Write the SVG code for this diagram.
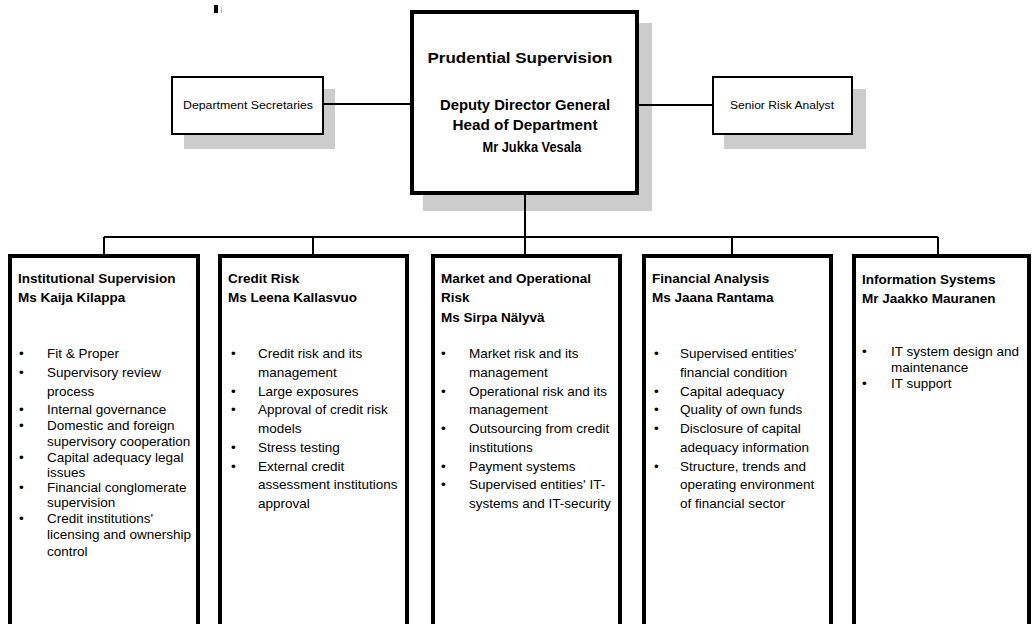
<svg xmlns="http://www.w3.org/2000/svg" width="1033" height="624" viewBox="0 0 1033 624">
<style>
.shadow{fill:#cccccc}
.box{fill:#ffffff;stroke:#000000}
.thin{stroke-width:2}
.thick{stroke-width:4}
.line{stroke:#000000;stroke-width:2;fill:none}
.t{font-family:"Liberation Sans",Arial,sans-serif;fill:#000000}
.hb{font-weight:bold;font-size:14px}
.sm{font-size:10px}
.ti{font-weight:bold;font-size:13.5px}
.li{font-size:13.5px}
</style>
<rect x="214" y="5" width="4" height="8" fill="#000"/>
<rect x="221" y="7" width="1" height="6" fill="#bbb"/>
<g id="dept-secretaries">
<rect class="shadow" x="184" y="89" width="151" height="60"/>
<rect class="box thin" x="172" y="77" width="151" height="57"/>
<text class="t sm" x="248" y="109" text-anchor="middle" textLength="130" lengthAdjust="spacingAndGlyphs">Department Secretaries</text>
</g>
<g id="head">
<rect class="shadow" x="423" y="23" width="229" height="188"/>
<rect class="box thick" x="412" y="12" width="225" height="181"/>
<text class="t hb" x="520" y="63" text-anchor="middle" textLength="185" lengthAdjust="spacingAndGlyphs">Prudential Supervision</text>
<text class="t hb" x="525" y="110" text-anchor="middle" textLength="170" lengthAdjust="spacingAndGlyphs">Deputy Director General</text>
<text class="t hb" x="525" y="130" text-anchor="middle" textLength="145" lengthAdjust="spacingAndGlyphs">Head of Department</text>
<text class="t hb" x="532" y="152" text-anchor="middle" textLength="99" lengthAdjust="spacingAndGlyphs">Mr Jukka Vesala</text>
</g>
<g id="senior-risk-analyst">
<rect class="shadow" x="724" y="89" width="142" height="60"/>
<rect class="box thin" x="713" y="77" width="139" height="57"/>
<text class="t sm" x="782" y="109" text-anchor="middle" textLength="104" lengthAdjust="spacingAndGlyphs">Senior Risk Analyst</text>
</g>
<g id="institutional-supervision">
<rect class="box thick" x="10" y="256" width="188" height="380"/>
<text class="t ti" x="18" y="283">Institutional Supervision</text>
<text class="t ti" x="18" y="302">Ms Kaija Kilappa</text>
<g class="t li">
<text x="19" y="358">•</text><text x="47" y="358">Fit &amp; Proper</text>
<text x="19" y="377">•</text><text x="47" y="377">Supervisory review</text>
<text x="47" y="396">process</text>
<text x="19" y="414">•</text><text x="47" y="414">Internal governance</text>
<text x="19" y="430">•</text><text x="47" y="430">Domestic and foreign</text>
<text x="47" y="446">supervisory cooperation</text>
<text x="19" y="462">•</text><text x="47" y="462">Capital adequacy legal</text>
<text x="47" y="477">issues</text>
<text x="19" y="492">•</text><text x="47" y="492">Financial conglomerate</text>
<text x="47" y="507">supervision</text>
<text x="19" y="523">•</text><text x="47" y="523">Credit institutions'</text>
<text x="47" y="539">licensing and ownership</text>
<text x="47" y="556">control</text>
</g>
</g>
<g id="credit-risk">
<rect class="box thick" x="220" y="256" width="187" height="380"/>
<text class="t ti" x="228" y="283">Credit Risk</text>
<text class="t ti" x="228" y="302">Ms Leena Kallasvuo</text>
<g class="t li">
<text x="231" y="358">•</text><text x="258" y="358">Credit risk and its</text>
<text x="258" y="377">management</text>
<text x="231" y="396">•</text><text x="258" y="396">Large exposures</text>
<text x="231" y="414">•</text><text x="258" y="414">Approval of credit risk</text>
<text x="258" y="433">models</text>
<text x="231" y="452">•</text><text x="258" y="452">Stress testing</text>
<text x="231" y="471">•</text><text x="258" y="471">External credit</text>
<text x="258" y="489">assessment institutions</text>
<text x="258" y="508">approval</text>
</g>
</g>
<g id="market-operational-risk">
<rect class="box thick" x="433" y="256" width="187" height="380"/>
<text class="t ti" x="441" y="283">Market and Operational</text>
<text class="t ti" x="441" y="302">Risk</text>
<text class="t ti" x="441" y="322">Ms Sirpa Nälyvä</text>
<g class="t li">
<text x="441" y="358">•</text><text x="469" y="358">Market risk and its</text>
<text x="469" y="377">management</text>
<text x="441" y="396">•</text><text x="469" y="396">Operational risk and its</text>
<text x="469" y="414">management</text>
<text x="441" y="433">•</text><text x="469" y="433">Outsourcing from credit</text>
<text x="469" y="452">institutions</text>
<text x="441" y="471">•</text><text x="469" y="471">Payment systems</text>
<text x="441" y="489">•</text><text x="469" y="489">Supervised entities' IT-</text>
<text x="469" y="508">systems and IT-security</text>
</g>
</g>
<g id="financial-analysis">
<rect class="box thick" x="644" y="256" width="187" height="380"/>
<text class="t ti" x="652" y="283">Financial Analysis</text>
<text class="t ti" x="652" y="302">Ms Jaana Rantama</text>
<g class="t li">
<text x="654" y="358">•</text><text x="680" y="358">Supervised entities'</text>
<text x="680" y="377">financial condition</text>
<text x="654" y="396">•</text><text x="680" y="396">Capital adequacy</text>
<text x="654" y="414">•</text><text x="680" y="414">Quality of own funds</text>
<text x="654" y="433">•</text><text x="680" y="433">Disclosure of capital</text>
<text x="680" y="452">adequacy information</text>
<text x="654" y="471">•</text><text x="680" y="471">Structure, trends and</text>
<text x="680" y="489">operating environment</text>
<text x="680" y="508">of financial sector</text>
</g>
</g>
<g id="information-systems">
<rect class="box thick" x="854" y="256" width="175" height="380"/>
<text class="t ti" x="862" y="284">Information Systems</text>
<text class="t ti" x="862" y="303">Mr Jaakko Mauranen</text>
<g class="t li">
<text x="862" y="356">•</text><text x="891" y="356">IT system design and</text>
<text x="891" y="372">maintenance</text>
<text x="862" y="388">•</text><text x="891" y="388">IT support</text>
</g>
</g>
<g id="connectors">
<line class="line" x1="323" y1="104" x2="412" y2="104"/>
<line class="line" x1="637" y1="105" x2="713" y2="105"/>
<line class="line" x1="525" y1="193" x2="525" y2="237"/>
<line class="line" x1="104" y1="237" x2="938" y2="237"/>
<line class="line" x1="104" y1="237" x2="104" y2="254"/>
<line class="line" x1="313" y1="237" x2="313" y2="254"/>
<line class="line" x1="525" y1="237" x2="525" y2="254"/>
<line class="line" x1="732" y1="237" x2="732" y2="254"/>
<line class="line" x1="938" y1="237" x2="938" y2="254"/>
</g>
</svg>
